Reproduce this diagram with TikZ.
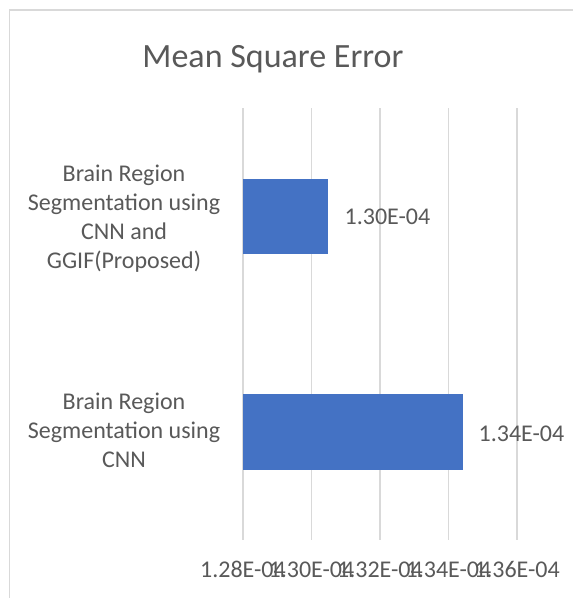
\documentclass[tikz,border=0pt]{standalone}
\usepackage{fontspec}
\setmainfont{Carlito}
\definecolor{txtgray}{HTML}{595959}
\definecolor{gridgray}{HTML}{D9D9D9}
\definecolor{barblue}{HTML}{4472C4}
\begin{document}
\begin{tikzpicture}[x=1pt,y=-1pt,
  grid/.style={draw=gridgray,line width=1.2pt},
  bar/.style={fill=barblue,draw=none},
  lbl/.style={text=txtgray,font=\fontsize{24}{29}\selectfont,inner sep=0pt},
  cat/.style={lbl,align=center},
  ttl/.style={text=txtgray,font=\fontsize{34}{40}\selectfont,inner sep=0pt}]
\useasboundingbox (0,0) rectangle (573,598);
\fill[white] (0,0) rectangle (573,598);
% chart border
\draw[grid] (9.5,598) -- (9.5,10) -- (573,10);
% title
\node[ttl,anchor=base] (title) at (273,67) {Mean Square Error};
% gridlines
\foreach \x/\n in {243/g0,311.5/g1,380/g2,448.5/g3,517/g4}{
  \coordinate (\n t) at (\x,108);
  \coordinate (\n b) at (\x,540);
  \draw[grid] (\n t) -- (\n b);
}
% bars
\draw[bar] (243,179) rectangle (328,254.3);
\draw[bar] (243,394) rectangle (463,470);
% data labels
\node[lbl,anchor=base] (v1) at (387.5,224) {1.30E-04};
\node[lbl,anchor=base] (v2) at (521.5,441) {1.34E-04};
% category labels
\node[cat] (c1) at (124,219) {Brain Region\\Segmentation using\\CNN and\\GGIF(Proposed)};
\node[cat] (c2) at (124,430) {Brain Region\\Segmentation using\\CNN};
% tick labels
\foreach \x/\t/\n in {243/1.28E-04/t0,311.5/1.30E-04/t1,380/1.32E-04/t2,448.5/1.34E-04/t3,517/1.36E-04/t4}{
  \node[lbl,anchor=base] (\n) at (\x,577) {\t};
}
\end{tikzpicture}
\end{document}
